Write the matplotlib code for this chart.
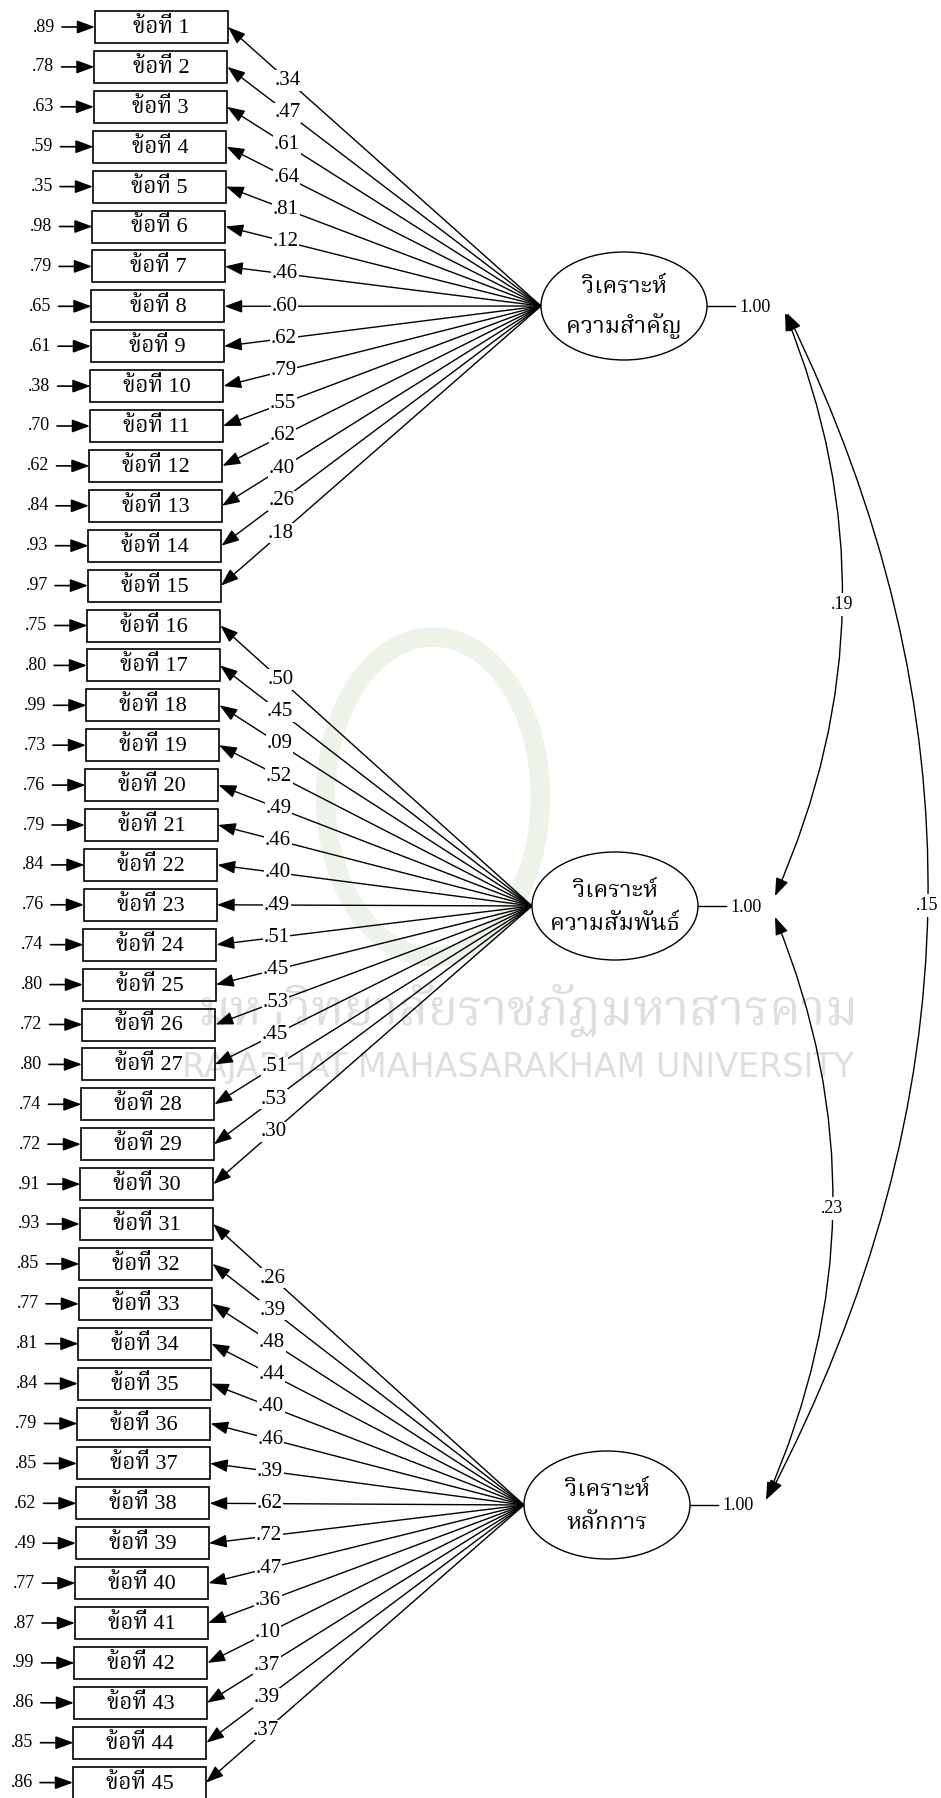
import matplotlib
matplotlib.use("Agg")
import matplotlib.pyplot as plt
from matplotlib import font_manager
from matplotlib.ft2font import FT2Font
from matplotlib.patches import Rectangle, Ellipse, FancyArrowPatch
from matplotlib.path import Path

# error variances of the 45 items
errors = [.89, .78, .63, .59, .35, .98, .79, .65, .61, .38, .70, .62, .84, .93, .97,
          .75, .80, .99, .73, .76, .79, .84, .76, .74, .80, .72, .80, .74, .72, .91,
          .93, .85, .77, .81, .84, .79, .85, .62, .49, .77, .87, .99, .86, .85, .86]

# standardized loadings
loadings = [.34, .47, .61, .64, .81, .12, .46, .60, .62, .79, .55, .62, .40, .26, .18,
            .50, .45, .09, .52, .49, .46, .40, .49, .51, .45, .53, .45, .51, .53, .30,
            .26, .39, .48, .44, .40, .46, .39, .62, .72, .47, .36, .10, .37, .39, .37]

item_labels = ["ข้อที่ %d" % (i + 1) for i in range(45)]
factor_names = ["วิเคราะห์\nความสำคัญ", "วิเคราะห์\nความสัมพันธ์", "วิเคราะห์\nหลักการ"]
factor_var = [1.00, 1.00, 1.00]
factor_items = [range(0, 15), range(15, 30), range(30, 45)]

# correlations between factors (from, to, value)
cor_pairs = [(0, 1), (1, 2), (0, 2)]
cor_values = [.19, .23, .15]


def find_thai_font():
    found = []
    for fe in font_manager.fontManager.ttflist:
        try:
            cmap = FT2Font(fe.fname).get_charmap()
        except Exception:
            continue
        if 0x0E02 in cmap and 0x0E49 in cmap:
            n = fe.name.lower()
            score = 0
            if "serif" in n and "sans" not in n:
                score += 2
            if "looped" in n:
                score += 1
            found.append((score, fe.name))
    if not found:
        return "DejaVu Sans"
    found.sort(reverse=True)
    return found[0][1]


def fmt(v):
    s = "%.2f" % v
    return s[1:] if s.startswith("0") else s


thai = find_thai_font()
num_font = ["Liberation Serif", thai, "DejaVu Sans"]

W, H = 941, 1798
fig = plt.figure(figsize=(W / 100, H / 100), dpi=100)
ax = fig.add_axes([0, 0, 1, 1])
ax.set_xlim(0, W)
ax.set_ylim(H, 0)
ax.axis("off")

# faint watermark
ax.add_patch(Ellipse((433, 797), 215, 320, fill=False, lw=14,
                     edgecolor="#eef3ea", zorder=0))
ax.text(528, 1010, "มหาวิทยาลัยราชภัฏมหาสารคาม", family=[thai, "DejaVu Sans"],
        fontsize=36, color="#dedede", ha="center", va="center", zorder=0)
ax.text(518, 1068, "RAJABHAT MAHASARAKHAM UNIVERSITY", family="DejaVu Sans",
        fontsize=24, color="#dedede", ha="center", va="center", zorder=0)

step = 39.9
box_w, box_h = 133, 32
item_y = [27 + step * i for i in range(45)]
item_left = [95 - 0.5 * i for i in range(45)]

fac_x = [624, 615, 607]
fac_y = [306, 906, 1505]
fac_rx, fac_ry = 83, 54

arrow_style = "-|>,head_length=0.6,head_width=0.22"

for i in range(45):
    x0, y = item_left[i], item_y[i]
    ax.add_patch(Rectangle((x0, y - box_h / 2), box_w, box_h, fill=False,
                           lw=1.2, edgecolor="black", zorder=3))
    ax.text(x0 + box_w / 2, y + 1, item_labels[i], family=num_font, fontsize=16,
            ha="center", va="center", zorder=4)
    # error arrow
    ax.add_patch(FancyArrowPatch((x0 - 33, y), (x0, y), arrowstyle=arrow_style,
                                 mutation_scale=18, lw=1.2, color="black",
                                 shrinkA=0, shrinkB=0, zorder=3))
    ax.text(x0 - 40, y, fmt(errors[i]), family=num_font, fontsize=13,
            ha="right", va="center", zorder=4)

for f in range(3):
    cx, cy = fac_x[f], fac_y[f]
    px = cx - fac_rx
    ax.add_patch(Ellipse((cx, cy), 2 * fac_rx, 2 * fac_ry, fill=True,
                         facecolor="white", edgecolor="black", lw=1.0, zorder=3))
    ax.text(cx, cy + 2, factor_names[f], family=num_font, fontsize=17,
            ha="center", va="center", linespacing=1.8, zorder=4)
    ax.plot([cx + fac_rx, cx + fac_rx + 28], [cy, cy], color="black", lw=1.0, zorder=3)
    ax.text(cx + fac_rx + 32, cy + 1, fmt(factor_var[f]), family=num_font,
            fontsize=13, ha="left", va="center", zorder=4)
    for i in factor_items[f]:
        bx, by = item_left[i] + box_w, item_y[i]
        ax.add_patch(FancyArrowPatch((px, cy), (bx, by), arrowstyle=arrow_style,
                                     mutation_scale=18, lw=1.0, color="black",
                                     shrinkA=0, shrinkB=0, zorder=2))
        lx = bx + 60
        ly = by + (cy - by) * (lx - bx) / (px - bx)
        ax.text(lx, ly, fmt(loadings[i]), family=num_font, fontsize=15,
                ha="center", va="center", zorder=4,
                bbox=dict(facecolor="white", edgecolor="none", pad=0.5))

# factor correlations (curved double-headed arrows)
ends = {(0, 1): ((785, 313), (775, 896)),
        (1, 2): ((775, 917), (766, 1500)),
        (0, 2): ((787, 313), (768, 1498))}
bulge = {(0, 1): 62, (1, 2): 62, (0, 2): 150}
for pair, val in zip(cor_pairs, cor_values):
    (ax_, ay_), (bx_, by_) = ends[pair]
    mx, my = (ax_ + bx_) / 2, (ay_ + by_) / 2
    ctrl = (mx + 2 * bulge[pair], my)
    path = Path([(ax_, ay_), ctrl, (bx_, by_)], [Path.MOVETO, Path.CURVE3, Path.CURVE3])
    ax.add_patch(FancyArrowPatch(path=path, arrowstyle="<|-|>,head_length=0.6,head_width=0.22",
                                 mutation_scale=18, lw=1.0, color="black", zorder=2,
                                 clip_on=False))
    tx = 0.25 * ax_ + 0.5 * ctrl[0] + 0.25 * bx_
    ty = 0.25 * ay_ + 0.5 * ctrl[1] + 0.25 * by_
    ax.text(tx, ty, fmt(val), family=num_font, fontsize=13, ha="center", va="center",
            zorder=4, bbox=dict(facecolor="white", edgecolor="none", pad=2))

fig.savefig("out.png", dpi=100)
